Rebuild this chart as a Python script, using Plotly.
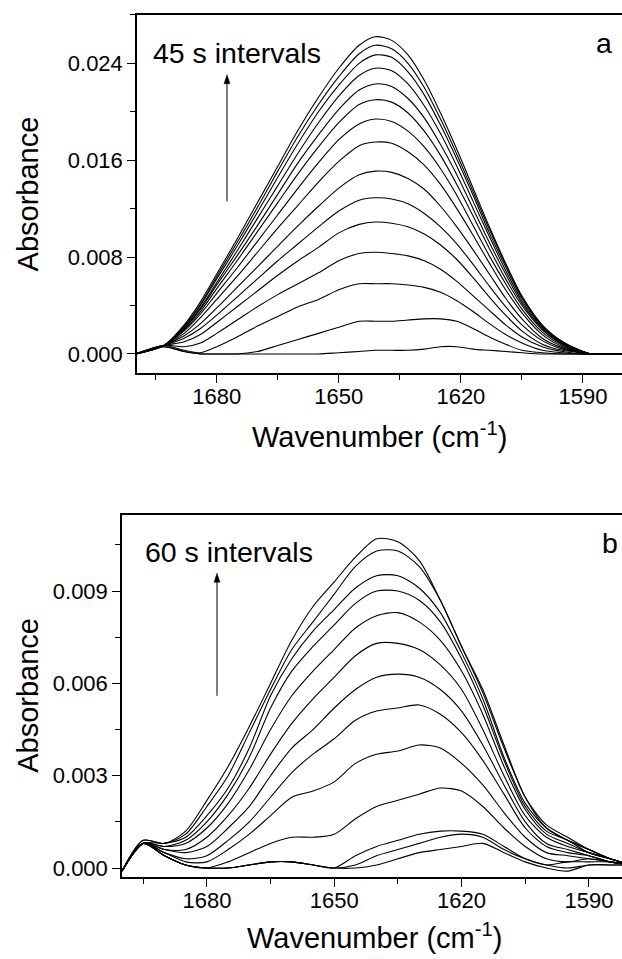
import plotly.graph_objects as go

W, H = 622, 959

# ---------------- Panel a data (45 s intervals) ----------------
XA = [1700, 1693, 1688, 1684, 1680, 1675, 1670, 1665, 1660, 1655, 1650, 1645, 1641,
      1637, 1633, 1629, 1625, 1621, 1617, 1613, 1609, 1605, 1600, 1595, 1590, 1588, 1580]

a01 = [0, .0006, .0002, 0, 0, 0, 0, 0, 0, 0, .0001, .0002, .0003, .0003, .0003, .0004, .0006, .0006, .0004, .0003, .0002, .0001, 0, 0, 0, 0, 0]
a02 = [0, .0006, .0002, 0, 0, 0, .0002, .0007, .0012, .0017, .0022, .0027, .0027, .0027, .0028, .0029, .0029, .0027, .0021, .0014, .0008, .0003, .0001, 0, 0, 0, 0]
a03 = [0, .0007, .0003, .0001, .0006, .0014, .0023, .0031, .0039, .0045, .0053, .0058, .0058, .0058, .0057, .0055, .0051, .0044, .0035, .0025, .0016, .0009, .0003, .0001, 0, 0, 0]
a04 = [0, .0007, .0006, .0009, .0017, .0028, .0039, .0049, .0058, .0067, .0077, .0083, .0084, .0083, .0081, .0077, .0070, .0060, .0048, .0036, .0024, .0014, .0006, .0002, 0, 0, 0]
a05 = [0, .0007, .0010, .0016, .0026, .0039, .0052, .0065, .0077, .0088, .0100, .0107, .0109, .0108, .0105, .0099, .0090, .0078, .0063, .0047, .0032, .0019, .0008, .0003, .0001, 0, 0]
a06 = [0, .0007, .0013, .0021, .0032, .0047, .0062, .0077, .0091, .0105, .0118, .0127, .0129, .0128, .0124, .0116, .0105, .0091, .0074, .0056, .0039, .0024, .0011, .0004, .0001, 0, 0]
a07 = [0, .0007, .0015, .0025, .0038, .0055, .0072, .0089, .0106, .0122, .0137, .0148, .0151, .0150, .0145, .0136, .0122, .0105, .0086, .0066, .0046, .0029, .0013, .0005, .0001, 0, 0]
a08 = [0, .0007, .0017, .0030, .0045, .0064, .0084, .0104, .0123, .0142, .0159, .0172, .0175, .0174, .0167, .0156, .0140, .0120, .0098, .0075, .0053, .0034, .0016, .0006, .0001, 0, 0]
a09 = [0, .0007, .0019, .0033, .0050, .0071, .0093, .0115, .0137, .0158, .0177, .0190, .0194, .0192, .0184, .0171, .0153, .0131, .0106, .0081, .0058, .0037, .0018, .0007, .0001, 0, 0]
a10 = [0, .0007, .0020, .0035, .0054, .0077, .0101, .0125, .0149, .0171, .0191, .0206, .0210, .0208, .0199, .0184, .0164, .0140, .0114, .0087, .0062, .0040, .0020, .0008, .0001, 0, 0]
a11 = [0, .0007, .0021, .0037, .0057, .0081, .0106, .0132, .0158, .0181, .0202, .0218, .0223, .0221, .0211, .0195, .0173, .0148, .0120, .0092, .0066, .0042, .0021, .0008, .0002, 0, 0]
a12 = [0, .0007, .0021, .0038, .0059, .0085, .0112, .0139, .0166, .0191, .0213, .0230, .0236, .0234, .0223, .0205, .0182, .0155, .0126, .0097, .0069, .0044, .0022, .0009, .0002, 0, 0]
a13 = [0, .0007, .0022, .0040, .0062, .0089, .0117, .0146, .0174, .0200, .0222, .0240, .0247, .0245, .0233, .0214, .0189, .0161, .0131, .0100, .0072, .0046, .0023, .0009, .0002, 0, 0]
a14 = [0, .0007, .0023, .0041, .0064, .0092, .0121, .0151, .0180, .0206, .0229, .0248, .0255, .0252, .0240, .0220, .0194, .0165, .0134, .0103, .0074, .0047, .0023, .0010, .0002, 0, 0]
a15 = [0, .0007, .0024, .0043, .0066, .0095, .0125, .0155, .0185, .0212, .0236, .0255, .0262, .0259, .0247, .0226, .0199, .0169, .0137, .0105, .0075, .0048, .0024, .0010, .0002, 0, 0]
SERIES_A = [a01, a02, a03, a04, a05, a06, a07, a08, a09, a10, a11, a12, a13, a14, a15]

# ---------------- Panel b data (60 s intervals) ----------------
XB = [1700, 1695, 1690, 1685, 1680, 1675, 1670, 1665, 1660, 1655, 1650, 1645, 1640,
      1635, 1630, 1625, 1620, 1615, 1610, 1605, 1600, 1595, 1590, 1585, 1580]

b01 = [-.0001, .0008, .0004, .0001, 0, 0, .0001, .0002, .0002, .0001, 0, 0, .0001, .0003, .0005, .0006, .0007, .0008, .0005, .0002, 0, -.0001, .0001, .0001, .0001]
b02 = [-.0001, .0008, .0004, .0001, 0, 0, .0001, .0002, .0002, .0001, 0, .0001, .0004, .0006, .0008, .0010, .0011, .0010, .0006, .0003, .0001, 0, .0001, .0001, .0001]
b03 = [-.0001, .0008, .0004, .0001, 0, 0, .0001, .0002, .0002, .0001, 0, .0004, .0007, .0009, .0011, .0012, .0012, .0011, .0007, .0003, .0001, .0002, .0002, .0002, .0001]
b04 = [-.0001, .0008, .0004, .0001, 0, .0002, .0005, .0008, .0010, .0010, .0011, .0016, .0020, .0022, .0024, .0026, .0025, .0020, .0013, .0007, .0003, .0002, .0003, .0002, .0001]
b05 = [-.0001, .0008, .0005, .0002, .0002, .0006, .0011, .0017, .0023, .0025, .0028, .0034, .0037, .0038, .0040, .0039, .0034, .0027, .0018, .0010, .0005, .0004, .0003, .0002, .0001]
b06 = [-.0001, .0008, .0005, .0003, .0004, .0009, .0015, .0023, .0031, .0037, .0042, .0048, .0051, .0052, .0053, .0050, .0044, .0035, .0024, .0013, .0007, .0005, .0004, .0002, .0001]
b07 = [-.0001, .0008, .0006, .0005, .0007, .0013, .0020, .0030, .0039, .0045, .0052, .0058, .0062, .0063, .0062, .0058, .0051, .0040, .0027, .0015, .0008, .0006, .0004, .0002, .0001]
b08 = [-.0001, .0008, .0006, .0006, .0010, .0017, .0026, .0037, .0047, .0055, .0062, .0069, .0073, .0073, .0071, .0066, .0058, .0045, .0030, .0017, .0010, .0007, .0005, .0003, .0001]
b09 = [-.0001, .0008, .0007, .0008, .0013, .0021, .0032, .0045, .0056, .0064, .0071, .0078, .0082, .0083, .0080, .0074, .0064, .0050, .0033, .0019, .0011, .0008, .0005, .0003, .0001]
b10 = [-.0001, .0008, .0007, .0009, .0015, .0024, .0036, .0052, .0064, .0072, .0079, .0086, .0090, .0090, .0087, .0080, .0068, .0053, .0035, .0020, .0012, .0009, .0005, .0003, .0001]
b11 = [-.0001, .0008, .0008, .0010, .0017, .0026, .0039, .0056, .0068, .0077, .0084, .0091, .0095, .0095, .0091, .0083, .0070, .0055, .0036, .0021, .0013, .0009, .0006, .0003, .0001]
b12 = [-.0001, .0009, .0008, .0011, .0020, .0030, .0044, .0058, .0071, .0080, .0089, .0098, .0103, .0103, .0098, .0087, .0072, .0057, .0039, .0023, .0013, .0009, .0006, .0003, .0001]
b13 = [-.0001, .0009, .0008, .0012, .0022, .0033, .0046, .0060, .0074, .0085, .0093, .0101, .0107, .0106, .0100, .0087, .0072, .0058, .0040, .0023, .0014, .0010, .0006, .0003, .0001]
SERIES_B = [b01, b02, b03, b04, b05, b06, b07, b08, b09, b10, b11, b12, b13]

TICKS_A_Y = [0.000, 0.008, 0.016, 0.024]
TICKS_B_Y = [0.000, 0.003, 0.006, 0.009]
TICKS_X = [1680, 1650, 1620, 1590]

FONT = "Liberation Sans, Arial, sans-serif"


def px(x):
    return x / W


def py(y):
    return 1 - y / H


fig = go.Figure()
for s in SERIES_A:
    fig.add_trace(go.Scatter(x=XA, y=s, mode="lines", xaxis="x", yaxis="y",
                             line=dict(color="black", width=1.1, shape="spline", smoothing=0.8),
                             showlegend=False, hoverinfo="skip"))
for s in SERIES_B:
    fig.add_trace(go.Scatter(x=XB, y=s, mode="lines", xaxis="x2", yaxis="y2",
                             line=dict(color="black", width=1.1, shape="spline", smoothing=0.8),
                             showlegend=False, hoverinfo="skip"))

common_x = dict(showline=True, linecolor="black", linewidth=1.5, mirror=True,
                ticks="outside", ticklen=8, tickwidth=1.3, tickcolor="black",
                showgrid=False, zeroline=False, tickmode="array", tickvals=TICKS_X,
                ticklabelstandoff=-5,
                tickfont=dict(family=FONT, size=22, color="black"),
                minor=dict(ticks="outside", ticklen=5, tickwidth=1.3, tickcolor="black",
                           tickmode="linear", tick0=1680, dtick=15))
common_y = dict(showline=True, linecolor="black", linewidth=1.5, mirror=False,
                ticks="outside", ticklen=8, tickwidth=1.3, tickcolor="black",
                showgrid=False, zeroline=False, tickmode="array", tickformat=".3f",
                tickfont=dict(family=FONT, size=22, color="black"))

fig.update_layout(
    width=W, height=H, margin=dict(l=0, r=0, t=0, b=0),
    paper_bgcolor="white", plot_bgcolor="white",
    xaxis=dict(common_x, domain=[px(137), 1], range=[1699.6, 1580.4], anchor="y"),
    yaxis=dict(common_y, domain=[py(374), py(15)], range=[-0.00156, 0.0280], anchor="x",
               tickvals=TICKS_A_Y,
               minor=dict(ticks="outside", ticklen=5, tickwidth=1.3, tickcolor="black",
                          tickmode="linear", tick0=0, dtick=0.004)),
    xaxis2=dict(common_x, domain=[px(122), 1], range=[1700, 1582.2], anchor="y2"),
    yaxis2=dict(common_y, domain=[py(880), py(517)], range=[-0.0003, 0.01146], anchor="x2",
                tickvals=TICKS_B_Y,
                minor=dict(ticks="outside", ticklen=5, tickwidth=1.3, tickcolor="black",
                           tickmode="linear", tick0=0, dtick=0.0015)),
)


def txt(x, y, s, size, xanchor="center", yanchor="middle", angle=0):
    fig.add_annotation(x=px(x), y=py(y), xref="paper", yref="paper", text=s,
                       showarrow=False, xanchor=xanchor, yanchor=yanchor, textangle=angle,
                       font=dict(family=FONT, size=size, color="black"))


txt(151, 53, "45 s intervals", 28.5, xanchor="left")
txt(604, 43, "a", 28.5)
txt(143, 554, "60 s intervals", 28.5, xanchor="left")
txt(610, 545, "b", 28.5)
txt(28, 195, "Absorbance", 29, angle=-90)
txt(28, 698, "Absorbance", 29, angle=-90)
txt(379, 456, "Wavenumber (cm<sup>-1</sup>)", 29, yanchor="bottom")
txt(374, 959, "Wavenumber (cm<sup>-1</sup>)", 29, yanchor="bottom")


def arrow(x, ytip, ytail, head_len=9, head_half=3):
    fig.add_shape(type="line", xref="paper", yref="paper",
                  x0=px(x), x1=px(x), y0=py(ytail), y1=py(ytip + head_len - 1),
                  line=dict(color="black", width=1))
    path = "M {:.5f},{:.5f} L {:.5f},{:.5f} L {:.5f},{:.5f} Z".format(
        px(x), py(ytip), px(x - head_half), py(ytip + head_len),
        px(x + head_half), py(ytip + head_len))
    fig.add_shape(type="path", xref="paper", yref="paper", path=path,
                  fillcolor="black", line=dict(color="black", width=0.5))


arrow(227, 75, 202)
arrow(217, 575, 698)

fig.write_html("out.html",
               config={"displayModeBar": False},
               post_script="document.body.style.margin='0px';document.body.style.padding='0px';")
